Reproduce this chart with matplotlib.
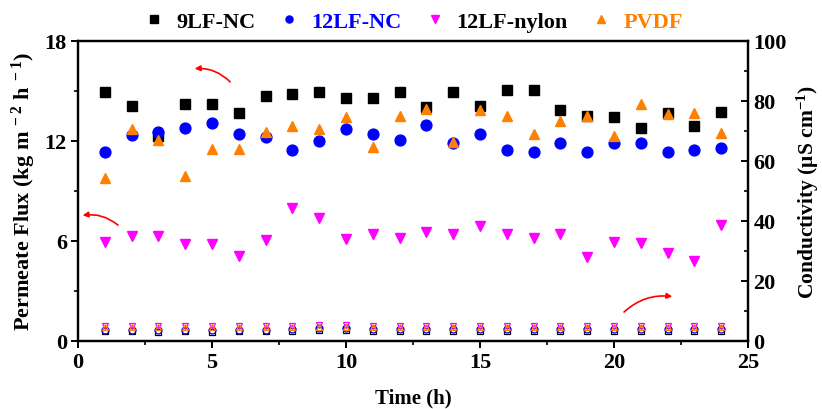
import matplotlib
matplotlib.use("Agg")
import matplotlib.pyplot as plt
import numpy as np

plt.rcParams['font.family'] = ['Liberation Serif', 'DejaVu Serif']
plt.rcParams['font.weight'] = 'bold'
plt.rcParams['mathtext.fontset'] = 'custom'
plt.rcParams['mathtext.rm'] = 'Liberation Serif:bold'
plt.rcParams['mathtext.default'] = 'rm'

time_h = list(range(1, 25))

flux_9lf_nc = [14.92, 14.12, 12.3, 14.24, 14.24, 13.66, 14.72, 14.82, 14.92, 14.58, 14.58, 14.92,
               14.02, 14.92, 14.12, 15.06, 15.06, 13.88, 13.52, 13.42, 12.78, 13.66, 12.92, 13.72]
flux_12lf_nc = [11.32, 12.38, 12.56, 12.76, 13.1, 12.42, 12.26, 11.44, 12.02, 12.7, 12.42, 12.08,
                12.98, 11.88, 12.42, 11.44, 11.34, 11.88, 11.34, 11.88, 11.88, 11.34, 11.46, 11.56]
flux_12lf_nylon = [5.92, 6.32, 6.32, 5.84, 5.84, 5.08, 6.08, 7.96, 7.36, 6.12, 6.4, 6.2,
                   6.56, 6.44, 6.88, 6.44, 6.16, 6.44, 5.02, 5.92, 5.86, 5.26, 4.82, 6.96]
flux_pvdf = [9.76, 12.72, 12.08, 9.88, 11.52, 11.52, 12.52, 12.92, 12.72, 13.42, 11.62, 13.52,
             13.92, 11.96, 13.88, 13.52, 12.42, 13.22, 13.52, 12.32, 14.22, 13.62, 13.66, 12.48]

cond_9lf_nc = [3.2, 3.2, 3.1, 3.2, 3.1, 3.2, 3.2, 3.3, 3.5, 3.5, 3.3, 3.3,
               3.3, 3.3, 3.3, 3.3, 3.3, 3.3, 3.3, 3.3, 3.3, 3.3, 3.3, 3.3]
cond_12lf_nc = [3.8, 3.8, 3.8, 3.8, 3.8, 3.8, 3.8, 3.9, 4.2, 4.2, 3.9, 3.9,
                3.9, 3.9, 3.9, 3.9, 3.9, 3.9, 3.9, 3.9, 3.9, 3.9, 3.9, 3.9]
cond_12lf_nylon = [4.9, 4.9, 4.9, 4.9, 4.9, 4.9, 4.9, 4.9, 5.3, 5.3, 5.0, 5.0,
                   5.0, 5.0, 5.0, 5.0, 5.0, 5.0, 5.0, 5.0, 5.0, 5.0, 5.0, 5.0]
cond_pvdf = [4.5, 4.5, 4.5, 4.5, 4.5, 4.5, 4.5, 4.5, 4.8, 4.8, 4.6, 4.6,
             4.6, 4.6, 4.6, 4.6, 4.6, 4.6, 4.6, 4.6, 4.6, 4.6, 4.6, 4.6]

labels = ['9LF-NC', '12LF-NC', '12LF-nylon', 'PVDF']
colors = ['black', '#0000FF', '#FF00FF', '#FF8000']
text_colors = ['black', '#0000FF', 'black', '#FF8000']
markers = ['s', 'o', 'v', '^']

fig = plt.figure(figsize=(8.22, 4.10), dpi=100)
ax = fig.add_axes([0.0949, 0.166, 0.815, 0.732])
ax2 = ax.twinx()

flux_sets = [flux_9lf_nc, flux_12lf_nc, flux_12lf_nylon, flux_pvdf]
cond_sets = [cond_9lf_nc, cond_12lf_nc, cond_12lf_nylon, cond_pvdf]

handles = []
for f, lab, c, m in zip(flux_sets, labels, colors, markers):
    h, = ax.plot(time_h, f, linestyle='none', marker=m, color=c, markersize=7.8, label=lab)
    handles.append(h)
for cd, c, m in zip(cond_sets, colors, markers):
    ax2.plot(time_h, cd, linestyle='none', marker=m, markerfacecolor='none',
             markeredgecolor=c, markersize=5, markeredgewidth=0.9)

ax.set_xlim(0, 25)
ax.set_ylim(0, 18)
ax2.set_ylim(0, 100)
ax.set_xticks([0, 5, 10, 15, 20, 25])
ax.set_xticks(np.arange(2.5, 25, 5), minor=True)
ax.set_yticks([0, 6, 12, 18])
ax.set_yticks([3, 9, 15], minor=True)
ax2.set_yticks([0, 20, 40, 60, 80, 100])
ax2.set_yticks([10, 30, 50, 70, 90], minor=True)

for a in (ax, ax2):
    for s in a.spines.values():
        s.set_linewidth(1.6)

ax.tick_params(axis='both', which='major', labelsize=16, width=1.4, length=5, direction='out', pad=3)
ax.tick_params(axis='both', which='minor', width=1.2, length=3, direction='out')
ax2.tick_params(axis='y', which='major', labelsize=16, width=1.4, length=5, direction='in', pad=4)
ax2.tick_params(axis='y', which='minor', width=1.2, length=3, direction='in')
for t in ax.get_xticklabels() + ax.get_yticklabels() + ax2.get_yticklabels():
    t.set_fontweight('bold')

ax.set_xlabel('Time (h)', fontsize=15, fontweight='bold', labelpad=11)
ax.set_ylabel(r'Permeate Flux (kg m$^{\,-2}$ h$^{\,-1}$)', fontsize=16, fontweight='bold', labelpad=5)
ax2.set_ylabel(r'Conductivity (μS cm$^{-1}$)', fontsize=15.5, fontweight='bold', labelpad=6)

leg = ax.legend(handles=handles, loc='lower center', bbox_to_anchor=(0.5, 0.985), ncol=4,
                frameon=False, fontsize=16, markerscale=0.65, handlelength=1.0,
                handletextpad=0.5, columnspacing=1.0, borderaxespad=0.2)
for t, tc in zip(leg.get_texts(), text_colors):
    t.set_color(tc)
    t.set_fontweight('bold')

arrow = dict(arrowstyle='-|>', color='red', lw=1.2, mutation_scale=8)
ax.annotate('', xy=(4.25, 16.32), xytext=(5.75, 15.42),
            arrowprops=dict(connectionstyle='arc3,rad=0.25', **arrow))
ax.annotate('', xy=(0.07, 7.5), xytext=(1.57, 6.84),
            arrowprops=dict(connectionstyle='arc3,rad=0.25', **arrow))
ax.annotate('', xy=(22.28, 2.64), xytext=(20.3, 1.62),
            arrowprops=dict(connectionstyle='arc3,rad=-0.25', **arrow))

fig.savefig('out.png', dpi=100)
